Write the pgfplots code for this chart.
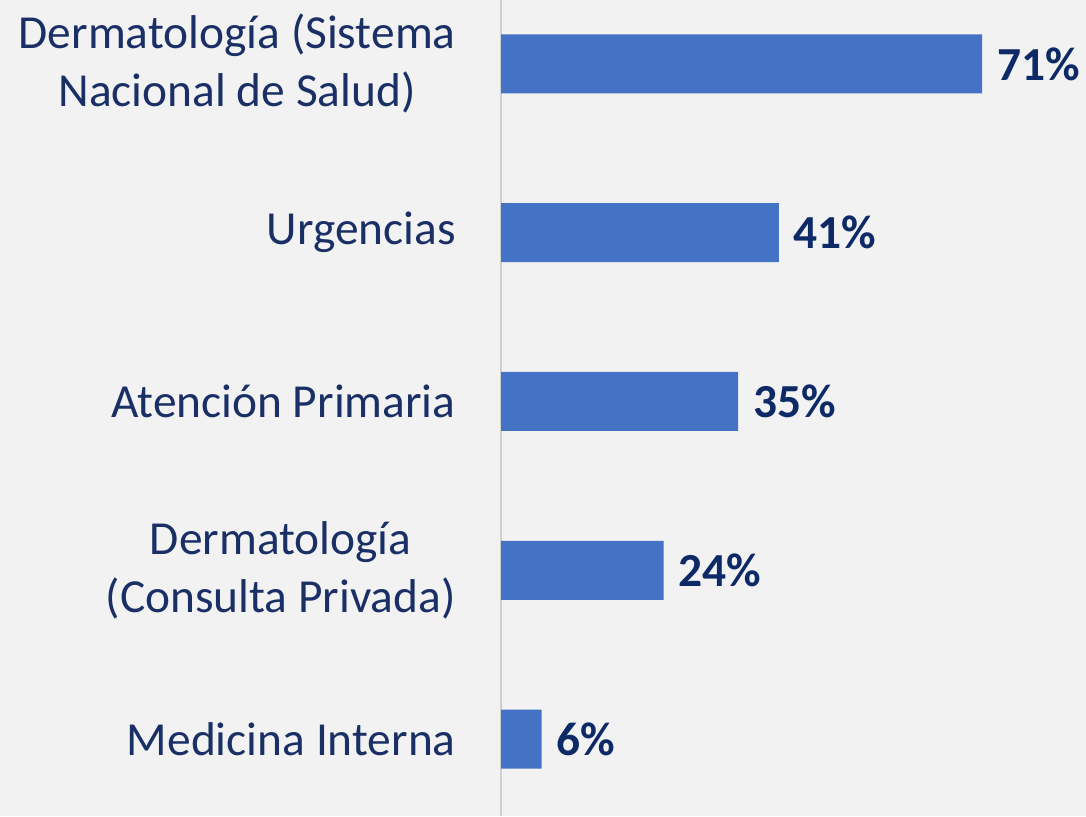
\documentclass[border=0pt]{standalone}
\usepackage{pgfplots}
\pgfplotsset{compat=1.18}
\usepackage{fontspec}
\setmainfont{Carlito}
\usetikzlibrary{backgrounds}
\definecolor{bg}{HTML}{F2F2F2}
\definecolor{barblue}{HTML}{4472C4}
\definecolor{navy}{HTML}{1A2F66}
\definecolor{valnavy}{HTML}{0D2A66}
\definecolor{axgray}{HTML}{D0D0D0}
\begin{document}
\begin{tikzpicture}
\begin{axis}[
  name=ax,
  scale only axis,
  width=292.5pt, height=408pt,
  xbar, bar width=29.5pt,
  xmin=0, xmax=86.35,
  ymin=-0.456, ymax=4.379,
  axis x line=none,
  axis y line=left,
  axis line style={-, draw=axgray, line width=1pt},
  ytick={0,1,2,3,4},
  yticklabels={Medicina Interna,{Dermatología\\(Consulta Privada)},Atención Primaria,Urgencias,{Dermatología (Sistema\\Nacional de Salud)}},
  major tick length=0pt,
  yticklabel style={font=\fontsize{23.7}{29}\selectfont, text=navy, align=center, inner sep=0pt, xshift=-22.5pt},
  nodes near coords={\pgfmathprintnumber[assume math mode=true]{\pgfplotspointmeta}\%},
  nodes near coords style={font=\fontsize{23.7}{29}\selectfont\bfseries, text=valnavy, xshift=4pt},
  point meta=x,
  clip=false,
]
\addplot[fill=barblue, draw=none] coordinates {(6,0) (24,1) (35,2) (41,3) (71,4)};
\end{axis}
\begin{pgfonlayer}{background}
\fill[bg] ([xshift=-250.5pt]ax.south west) rectangle (ax.north east);
\end{pgfonlayer}
\pgfresetboundingbox
\path[use as bounding box] ([xshift=-250.5pt]ax.south west) rectangle (ax.north east);
\end{tikzpicture}
\end{document}
